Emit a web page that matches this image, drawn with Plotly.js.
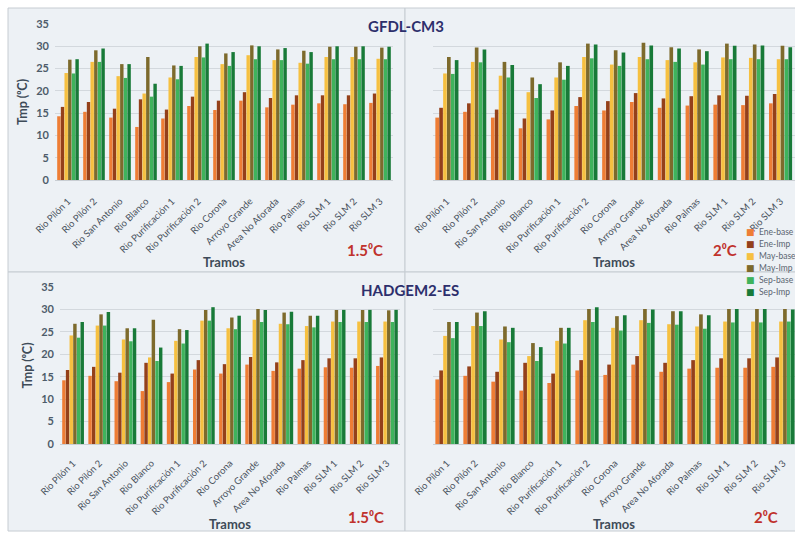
<!DOCTYPE html>
<html>
<head>
<meta charset="utf-8">
<script src="https://cdn.plot.ly/plotly-3.0.1.min.js"></script>
<style>
html,body{margin:0;padding:0;background:#ffffff;}
#chart{width:795px;height:533px;}
</style>
</head>
<body>
<div id="chart"></div>
<script>
// ---------------- DATA ----------------
const categories = ["Rio Pilón 1","Rio Pilón 2","Rio San Antonio","Rio Blanco","Rio Purificación 1","Rio Purificación 2","Rio Corona","Arroyo Grande","Area No Aforada","Rio Palmas","Rio SLM 1","Rio SLM 2","Rio SLM 3"];
const seriesNames = ["Ene-base","Ene-Imp","May-base","May-Imp","Sep-base","Sep-Imp"];
const seriesColors = ["#ee7d35","#94401a","#f6c040","#7d6a2c","#3fb35c","#187a38"];

// GFDL-CM3, 1.5 °C  (rows follow seriesNames)
const gfdl15 = [
  [14.3,15.3,14.0,11.9,13.8,16.6,15.7,17.8,16.3,16.9,17.2,17.0,17.3],
  [16.4,17.5,16.0,18.1,15.8,18.7,17.8,19.7,18.4,19.0,19.0,19.0,19.4],
  [24.0,26.5,23.3,19.4,23.0,27.6,26.0,28.0,26.9,26.3,27.6,27.6,27.2],
  [27.0,29.1,26.0,27.6,25.7,30.0,28.4,30.2,29.3,29.0,29.9,29.9,29.7],
  [23.9,26.5,22.9,18.7,22.6,27.5,25.6,27.1,26.9,26.1,27.1,27.1,27.1],
  [27.1,29.5,26.0,21.6,25.6,30.6,28.7,30.0,29.6,28.7,30.0,30.0,29.9]
];
// GFDL-CM3, 2 °C
const gfdl20 = [
  [14.0,15.3,14.0,11.6,13.6,16.6,15.6,17.5,16.2,16.7,16.9,16.8,17.2],
  [16.2,17.2,15.8,13.8,15.6,18.6,17.7,19.5,18.3,18.8,19.0,18.9,19.3],
  [23.9,26.5,23.4,19.7,23.0,27.6,25.9,27.6,26.9,26.4,27.5,27.4,27.1],
  [27.6,29.7,26.5,23.0,26.4,30.6,29.1,30.8,29.8,29.3,30.6,30.4,30.1],
  [23.8,26.4,23.0,18.4,22.5,27.3,25.6,27.1,26.5,25.9,27.1,27.1,27.1],
  [26.9,29.3,25.8,21.5,25.6,30.4,28.6,30.2,29.5,28.9,30.1,30.2,29.8]
];
// HADGEM2-ES, 1.5 °C
const hadgem15 = [
  [14.2,15.2,14.0,11.8,13.8,16.6,15.7,17.7,16.3,16.8,17.1,17.0,17.4],
  [16.5,17.2,15.9,18.1,15.7,18.7,17.8,19.4,18.2,18.7,19.1,19.1,19.3],
  [24.2,26.4,23.3,19.3,23.0,27.5,25.8,27.7,26.8,26.3,27.3,27.3,27.3],
  [26.8,28.9,25.8,27.7,25.6,29.9,28.2,30.1,29.3,28.6,29.9,29.9,29.8],
  [23.7,26.4,22.9,18.5,22.4,27.5,25.6,27.2,26.7,26.0,27.2,27.2,27.2],
  [27.2,29.4,25.8,21.5,25.4,30.5,28.6,29.9,29.5,28.6,29.9,29.9,29.9]
];
// HADGEM2-ES, 2 °C
const hadgem20 = [
  [14.4,15.2,13.9,11.9,13.6,16.4,15.4,17.7,16.1,16.8,17.0,17.0,17.2],
  [16.4,17.3,16.1,18.1,15.7,18.7,17.7,19.6,18.1,18.7,19.1,19.1,19.3],
  [24.1,26.3,23.3,19.6,23.0,27.6,25.9,27.6,26.7,26.2,27.3,27.3,27.3],
  [27.2,29.3,26.2,22.5,25.9,30.1,28.5,30.1,29.6,28.9,30.1,30.1,30.1],
  [23.6,26.3,22.7,18.5,22.4,27.2,25.3,27.0,26.6,25.7,27.1,27.1,27.3],
  [27.2,29.6,25.9,21.6,25.9,30.5,28.7,30.0,29.6,28.7,30.1,30.1,30.0]
];

const modelTitles = ["GFDL-CM3","HADGEM2-ES"];
const scenarioLabels = ["1.5⁰C","2⁰C"];
const xTitle = "Tramos";
const yTitle = "Tmp (⁰C)";

// ---------------- LAYOUT HELPERS ----------------
const W = 795, H = 533;
const px = v => v / W;
const py = v => 1 - v / H;
const FONT = "Lato, 'Open Sans', 'DejaVu Sans', sans-serif";

const panels = [
  {data: gfdl15,   xa: "x",  ya: "y",  xd: [55, 393],  yd: [180, 24],  xr: [-0.5, 12.5],  left: true,  lso: 11},
  {data: gfdl20,   xa: "x2", ya: "y2", xd: [433, 795], yd: [180, 24],  xr: [-0.5, 12.52], left: false, lso: 11},
  {data: hadgem15, xa: "x3", ya: "y3", xd: [60, 400],  yd: [444, 287], xr: [-0.5, 12.5],  left: true,  lso: 9},
  {data: hadgem20, xa: "x4", ya: "y4", xd: [433, 795], yd: [444, 287], xr: [-0.5, 12.43], left: false, lso: 9}
];

const traces = [];
panels.forEach(p => {
  p.data.forEach((vals, i) => {
    traces.push({
      type: "bar", x: categories, y: vals, name: seriesNames[i],
      marker: {color: seriesColors[i], line: {width: 0}},
      xaxis: p.xa, yaxis: p.ya, showlegend: false,
      hovertemplate: "%{x}<br>" + seriesNames[i] + ": %{y}<extra></extra>"
    });
  });
});

const layout = {
  width: W, height: H,
  margin: {l: 0, r: 0, t: 0, b: 0},
  paper_bgcolor: "#ffffff",
  plot_bgcolor: "rgba(0,0,0,0)",
  barmode: "group",
  bargap: 0.16,
  bargroupgap: 0.06,
  font: {family: FONT, color: "#4a5866"},
  shapes: [],
  annotations: []
};

panels.forEach((p, k) => {
  const sfx = k === 0 ? "" : String(k + 1);
  layout["xaxis" + sfx] = {
    domain: [px(p.xd[0]), Math.min(1, px(p.xd[1]))],
    anchor: p.ya,
    type: "category",
    range: p.xr,
    dtick: 1,
    tickangle: -45,
    ticklabelstandoff: p.lso,
    tickfont: {size: 9.5, color: "#4a535e", family: FONT},
    showline: true, linecolor: "#c9ced3", linewidth: 1,
    ticks: "", showgrid: false, zeroline: false,
    title: {text: xTitle, font: {size: 13, color: "#3e4b58", family: FONT, weight: "bold"}, standoff: 3},
    fixedrange: true
  };
  const ya = {
    domain: [py(p.yd[0]), py(p.yd[1])],
    anchor: p.xa,
    range: [0, 35],
    dtick: 5,
    showgrid: true, gridcolor: "#d3d8dd", gridwidth: 1,
    zeroline: false, showline: false, ticks: "",
    showticklabels: p.left,
    ticklabelstandoff: 5,
    tickfont: {size: 11, color: "#4e5c6a", family: FONT, weight: "bold"},
    fixedrange: true
  };
  if (p.left) {
    ya.title = {text: yTitle, font: {size: 12.5, color: "#3e4b58", family: FONT, weight: "bold"}, standoff: 5};
  }
  layout["yaxis" + sfx] = ya;
});

// panel frames
const frames = [[8, 8, 405, 272], [405, 8, 800, 272], [8, 272, 405, 531], [405, 272, 800, 531]];
frames.forEach(f => {
  layout.shapes.push({
    type: "rect", xref: "paper", yref: "paper", layer: "below",
    x0: px(f[0]), x1: px(f[2]), y0: py(f[3]), y1: py(f[1]),
    fillcolor: "#edf1f5", line: {color: "#c6ccd2", width: 1}
  });
});

// model titles
layout.annotations.push({
  xref: "paper", yref: "paper", x: px(406), y: py(26), xanchor: "center", yanchor: "middle",
  text: modelTitles[0], showarrow: false,
  font: {size: 15, color: "#2d2f6c", family: FONT, weight: "bold"}
});
layout.annotations.push({
  xref: "paper", yref: "paper", x: px(410), y: py(290), xanchor: "center", yanchor: "middle",
  text: modelTitles[1], showarrow: false,
  font: {size: 15, color: "#2d2f6c", family: FONT, weight: "bold"}
});

// scenario labels
const scen = [[365, 250, 0], [725, 250, 1], [366, 517, 0], [766, 517, 1]];
scen.forEach(s => {
  layout.annotations.push({
    xref: "paper", yref: "paper", x: px(s[0]), y: py(s[1]), xanchor: "center", yanchor: "middle",
    text: scenarioLabels[s[2]], showarrow: false,
    font: {size: 15, color: "#c0322c", family: FONT, weight: "bold"}
  });
});

// legend (top-right panel): colour key squares + names
seriesNames.forEach((n, i) => {
  const yy = py(232 + i * 12);
  layout.annotations.push({
    xref: "paper", yref: "paper", x: px(757), y: yy, xanchor: "right", yanchor: "middle",
    text: "■", showarrow: false,
    font: {size: 9, color: seriesColors[i], family: "'DejaVu Sans', sans-serif"}
  });
  layout.annotations.push({
    xref: "paper", yref: "paper", x: px(757), y: yy, xanchor: "left", yanchor: "middle",
    text: n, showarrow: false,
    font: {size: 8.5, color: "#5a6470", family: FONT}
  });
});

Plotly.newPlot("chart", traces, layout, {displayModeBar: false, staticPlot: true});
</script>
</body>
</html>
